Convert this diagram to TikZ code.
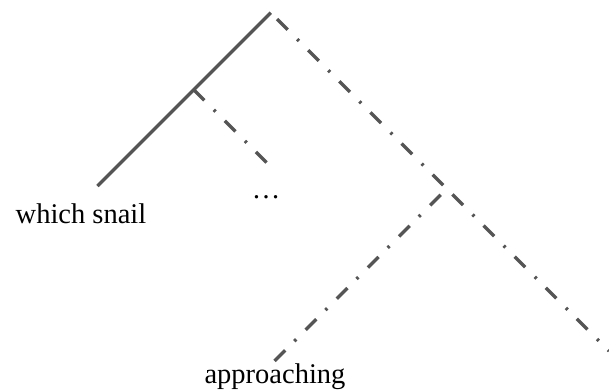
\documentclass[tikz,border=0pt]{standalone}
\usepackage{fontspec}
\setmainfont{Liberation Serif}
\definecolor{edgegray}{RGB}{85,85,85}
\tikzset{
  solidedge/.style={draw=edgegray, line width=3.4pt},
  ddedge/.style={draw=edgegray, line width=3.4pt, line cap=butt,
    dash pattern=on 15pt off 13.5pt on 2.5pt off 13pt},
  leaflabel/.style={inner sep=0pt, anchor=base, font=\fontsize{28.5}{32}\selectfont}
}
\begin{document}
\begin{tikzpicture}[x=1pt,y=-1pt]
\useasboundingbox (0,0) rectangle (609,391);
\coordinate (root) at (270.7,12.7);
\coordinate (ws) at (97.5,186);
\coordinate (b) at (193.7,89.7);
\coordinate (dots) at (267.5,163.5);
\coordinate (d) at (446.75,188.75);
\coordinate (e) at (609,351);
\coordinate (ap) at (273.3,362.2);
\node[leaflabel] (lws) at (81,223) {which snail};
\node[leaflabel] (lap) at (275,383) {approaching};
\node[leaflabel] (ldots) at (266,198) {…};
\draw[solidedge] (root) -- (ws);
\draw[ddedge, dash phase=0pt] (b) -- (dots);
\draw[ddedge, dash phase=35pt] (root) -- (d);
\draw[ddedge, dash phase=36pt] (d) -- (e);
\draw[ddedge, dash phase=35.5pt] (d) -- (ap);
\end{tikzpicture}
\end{document}
